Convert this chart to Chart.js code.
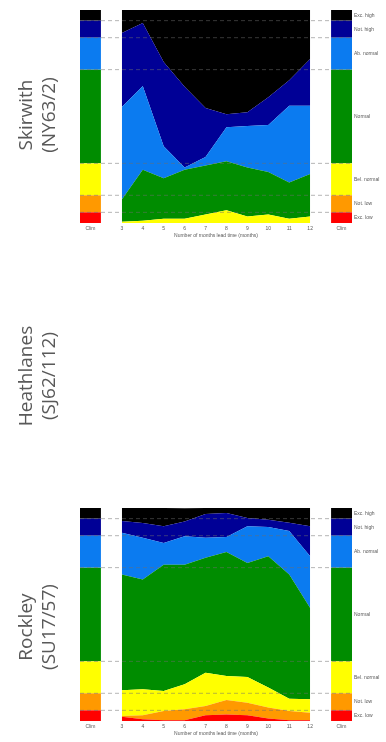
<!DOCTYPE html>
<html>
<head>
<meta charset="utf-8">
<script src="https://cdn.jsdelivr.net/npm/chart.js@4"></script>
<style>
    body { margin: 0; background: #fff; }
    #page { position: relative; width: 386px; height: 742px; overflow: hidden; }
    .panel { position: absolute; left: 0; width: 386px; height: 245px; }
    .titulo {
        position: absolute;
        width: 200px;
        height: 46px;
        font-family: "Open Sans", sans-serif;
        font-size: 19px;
        line-height: 23px;
        color: #595959;
        text-align: center;
        transform: rotate(-90deg);
    }
</style>
</head>
<body>
<div id="page">
    <div class="panel" style="top: 0px;"><canvas id="graficoSkirwith" width="386" height="245"></canvas></div>
    <div class="panel" style="top: 498px;"><canvas id="graficoRockley" width="386" height="245"></canvas></div>
    <div class="titulo" style="left: -63px; top: 92px;">Skirwith<br>(NY63/2)</div>
    <div class="titulo" style="left: -63px; top: 353px;">Heathlanes<br>(SJ62/112)</div>
    <div class="titulo" style="left: -63px; top: 604px;">Rockley<br>(SU17/57)</div>
</div>
<script>
// Dados (percentagens por mes de antecedencia)
const leadMonths = [3, 4, 5, 6, 7, 8, 9, 10, 11, 12];
const categoryLabels = ['Exc. low', 'Not. low', 'Bel. normal', 'Normal', 'Ab. normal', 'Not. high', 'Exc. high'];
const categoryColors = ['#ff0000', '#ff9900', '#ffff00', '#008c00', '#0b7bf0', '#000096', '#000000'];
const climatology = [5, 8, 15, 44, 15, 8, 5];
const climLabel = 'Clim';
const xTitle = 'Number of months lead time (months)';

// Skirwith (NY63/2)
const skirwithExcLow    = [0, 0, 0, 0, 0, 0, 0, 0, 0, 0];
const skirwithNotLow    = [0, 0, 0, 0, 0, 0, 0, 0, 0, 0];
const skirwithBelNormal = [0.6, 1, 2, 2, 4, 6, 3, 4, 2, 3];
const skirwithNormal    = [10.4, 24, 19, 23, 23, 23, 23, 20, 17, 20];
const skirwithAbNormal  = [43.5, 39.3, 15, 1, 4, 16, 19.5, 22, 36, 32];
const skirwithNotHigh   = [34.7, 29.6, 39.6, 38, 23, 6, 6.5, 13, 12, 22];
const skirwithExcHigh   = [10.8, 6.1, 24.4, 36, 46, 49, 48, 41, 33, 23];

// Rockley (SU17/57)
const rockleyExcLow    = [2, 0.8, 0.3, 0.3, 2.7, 3.1, 2.7, 1.2, 0.3, 0.3];
const rockleyNotLow    = [0.3, 1.9, 4.4, 5.2, 4.3, 6.8, 5.9, 5.1, 4.4, 3.6];
const rockleyBelNormal = [12.1, 12.2, 9.4, 11.7, 15.7, 11.2, 12.1, 9.4, 5.8, 6.3];
const rockleyNormal    = [54.4, 51.5, 59.3, 56.2, 53.9, 58.3, 53.5, 61.6, 58.3, 42.9];
const rockleyAbNormal  = [19.6, 19.6, 10.2, 13.3, 9.4, 7, 17.2, 13.8, 20.4, 24.2];
const rockleyNotHigh   = [5.5, 7, 7.8, 7, 11.2, 11.3, 3.9, 3.4, 3.9, 14.1];
const rockleyExcHigh   = [6.2, 7, 8.6, 6.2, 2.8, 2.3, 4.7, 5.5, 7, 8.6];

// Posicoes no eixo x das barras de climatologia
const climLeft = [1, 2];
const climRight = [13, 14];

Chart.defaults.font.family = '"Liberation Sans", sans-serif';
Chart.defaults.color = '#595959';

// Limites acumulados da climatologia
function limitesClim() {
    const limites = [];
    let soma = 0;
    climatology.forEach(v => { soma += v; limites.push(soma); });
    return limites;
}

function datasetsClim(xs, stackKey) {
    return climatology.map((v, i) => ({
        data: xs.map(x => ({ x: x, y: v })),
        backgroundColor: categoryColors[i],
        borderWidth: 0,
        pointRadius: 0,
        fill: i === 0 ? 'origin' : '-1',
        stack: stackKey
    }));
}

function criarGrafico(canvasId, series) {
    const ctx = document.getElementById(canvasId).getContext('2d');
    const limites = limitesClim();
    const centros = climatology.map((v, i) => limites[i] - v / 2);

    const principais = series.map((serie, i) => ({
        data: leadMonths.map((m, j) => ({ x: m, y: serie[j] })),
        backgroundColor: categoryColors[i],
        borderWidth: 0,
        pointRadius: 0,
        tension: 0,
        fill: i === 0 ? 'origin' : '-1',
        stack: 'main'
    }));

    const tracejadas = limites.slice(0, -1).map((v, i) => ({
        data: [{ x: climLeft[0], y: v }, { x: climRight[1], y: v }],
        borderColor: 'rgba(110, 110, 110, 0.5)',
        borderWidth: 1,
        borderDash: [4, 3],
        pointRadius: 0,
        fill: false,
        stack: 'd' + i,
        order: -1
    }));

    return new Chart(ctx, {
        type: 'line',
        data: {
            datasets: [
                ...principais,
                ...datasetsClim(climLeft, 'climL'),
                ...datasetsClim(climRight, 'climR'),
                ...tracejadas
            ]
        },
        options: {
            responsive: false,
            animation: false,
            layout: { padding: { left: 80, top: 10, right: 0, bottom: 0 } },
            plugins: {
                legend: { display: false },
                tooltip: { enabled: false }
            },
            scales: {
                x: {
                    type: 'linear',
                    min: climLeft[0],
                    max: climRight[1],
                    grid: { display: false, drawTicks: false },
                    border: { display: false },
                    afterBuildTicks: scale => {
                        const valores = [(climLeft[0] + climLeft[1]) / 2, ...leadMonths, (climRight[0] + climRight[1]) / 2];
                        scale.ticks = valores.map(v => ({ value: v }));
                    },
                    afterFit: scale => { scale.height = 22; },
                    ticks: {
                        autoSkip: false,
                        maxRotation: 0,
                        minRotation: 0,
                        padding: 3,
                        font: { size: 5 },
                        callback: v => (leadMonths.includes(v) ? String(v) : climLabel)
                    },
                    title: {
                        display: true,
                        text: xTitle,
                        font: { size: 5 },
                        padding: { top: 0, bottom: 6 }
                    }
                },
                y: {
                    stacked: true,
                    display: false,
                    min: 0,
                    max: 100
                },
                y2: {
                    position: 'right',
                    min: 0,
                    max: 100,
                    grid: { display: false, drawTicks: false },
                    border: { display: false },
                    afterBuildTicks: scale => {
                        scale.ticks = centros.map(v => ({ value: v }));
                    },
                    afterFit: scale => { scale.width = 34; },
                    ticks: {
                        padding: 2,
                        font: { size: 5 },
                        callback: (v, i) => categoryLabels[i]
                    }
                }
            }
        }
    });
}

document.addEventListener('DOMContentLoaded', () => {
    criarGrafico('graficoSkirwith', [
        skirwithExcLow, skirwithNotLow, skirwithBelNormal, skirwithNormal,
        skirwithAbNormal, skirwithNotHigh, skirwithExcHigh
    ]);
    criarGrafico('graficoRockley', [
        rockleyExcLow, rockleyNotLow, rockleyBelNormal, rockleyNormal,
        rockleyAbNormal, rockleyNotHigh, rockleyExcHigh
    ]);
});
</script>
</body>
</html>
